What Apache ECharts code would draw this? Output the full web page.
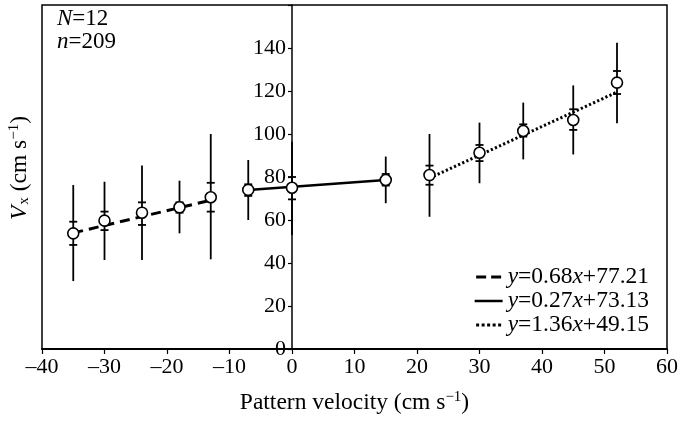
<!DOCTYPE html>
<html>
<head>
<meta charset="utf-8">
<script src="https://cdn.jsdelivr.net/npm/echarts@6/dist/echarts.min.js"></script>
<style>html,body{margin:0;padding:0;background:#fff;}#c{width:681px;height:421px;}</style>
</head>
<body>
<div id="c"></div>
<script>
// Data
const xVals  = [-35, -30, -24, -18, -13, -7, 0, 15, 22, 30, 37, 45, 52];
const yMeans = [53.8, 59.7, 63.4, 65.9, 70.6, 74.0, 75.0, 78.6, 80.9, 91.3, 101.4, 106.5, 123.9];
const sdLow  = [31.6, 41.4, 41.4, 53.8, 41.7, 60.0, 53.0, 67.8, 61.5, 77.1, 88.2, 90.5, 105.0];
const sdHigh = [76.3, 77.8, 85.3, 78.3, 100.0, 87.9, 96.4, 89.5, 100.0, 105.3, 114.6, 122.6, 142.5];
const seLow  = [48.4, 55.3, 57.7, 63.4, 63.9, 71.2, 69.6, 76.0, 76.4, 87.4, 98.8, 101.9, 118.6];
const seHigh = [59.2, 63.9, 68.2, 68.2, 77.3, 76.6, 80.0, 81.4, 85.3, 94.9, 104.5, 111.5, 129.3];

const fitNames = ['y=0.68x+77.21', 'y=0.27x+73.13', 'y=1.36x+49.15'];
const fitDashed = [[-35, 54.0], [-13, 69.2]];
const fitSolid  = [[-7, 74.0], [15, 78.6]];
const fitDotted = [[22, 79.5], [52, 119.5]];

const xTicks = [-40, -30, -20, -10, 0, 10, 20, 30, 40, 50, 60];
const yTicks = [0, 20, 40, 60, 80, 100, 120, 140];

const FONT = '"Liberation Serif", "DejaVu Serif", serif';
const FS_TICK = 22;
const FS_TEXT = 23.5;

const errData = xVals.map((x, i) => [x, sdLow[i], sdHigh[i], seLow[i], seHigh[i]]);
const ptData = xVals.map((x, i) => [x, yMeans[i]]);

const chart = echarts.init(document.getElementById('c'), null, {renderer: 'canvas'});

function fmtEq(name) {
  const m = name.match(/^y=([^x]+)x(.+)$/);
  return '{i|y}{n|=' + m[1] + '}{i|x}{n|' + m[2] + '}';
}

const iconDashed = 'path://M0,0h10v3h-10z M15,0h10v3h-10z';
const iconSolid  = 'path://M0,0h28v2.5h-28z';
const iconDotted = 'path://M0,0h3v3h-3z M5.5,0h3v3h-3z M11,0h3v3h-3z M16.5,0h3v3h-3z M22,0h3v3h-3z';

const GRID_LEFT = 42, GRID_RIGHT = 14;
const plotW = 681 - GRID_LEFT - GRID_RIGHT;

const option = {
  animation: false,
  backgroundColor: '#fff',
  grid: {left: GRID_LEFT, right: GRID_RIGHT, top: 5, bottom: 72, show: true, borderColor: '#000', borderWidth: 1.5, backgroundColor: 'transparent'},
  xAxis: {
    type: 'value', min: -40, max: 60, interval: 10,
    axisLine: {show: true, onZero: false, lineStyle: {color: '#000', width: 2}},
    axisTick: {show: true, length: 5, lineStyle: {color: '#000', width: 1.2}},
    axisLabel: {color: '#000', fontFamily: FONT, fontSize: FS_TICK, margin: 7,
      formatter: v => xTicks.includes(v) ? String(v).replace('-', '\u2013') : ''},
    splitLine: {show: false},
    name: 'Pattern velocity (cm s{sup|\u22121})',
    nameLocation: 'middle', nameGap: 41,
    nameTextStyle: {color: '#000', fontFamily: FONT, fontSize: FS_TEXT,
      rich: {sup: {fontFamily: FONT, fontSize: 15, verticalAlign: 'top', padding: [0, 0, 11, 0], color: '#000'}}}
  },
  yAxis: {
    type: 'value', min: 0, max: 160, interval: 20,
    offset: -plotW * 0.4,
    axisLine: {show: true, onZero: false, lineStyle: {color: '#000', width: 1.5}},
    axisTick: {show: true, length: 4, lineStyle: {color: '#000', width: 1.2}},
    axisLabel: {color: '#000', fontFamily: FONT, fontSize: FS_TICK, margin: 6,
      formatter: v => yTicks.includes(v) ? String(v) : ''},
    splitLine: {show: false}
  },
  legend: {
    orient: 'vertical', right: 27, top: 260,
    itemWidth: 28, itemHeight: 3, itemGap: 0,
    data: [{name: fitNames[0], icon: iconDashed}, {name: fitNames[1], icon: iconSolid}, {name: fitNames[2], icon: iconDotted}],
    itemStyle: {color: '#000', borderWidth: 0},
    formatter: fmtEq,
    textStyle: {color: '#000', fontFamily: FONT, fontSize: FS_TEXT, lineHeight: 22.5,
      rich: {i: {fontFamily: FONT, fontSize: FS_TEXT, fontStyle: 'italic', color: '#000', lineHeight: 22.5},
             n: {fontFamily: FONT, fontSize: FS_TEXT, color: '#000', lineHeight: 22.5}}}
  },
  graphic: [
    {type: 'text', left: 57, top: 7, style: {
      text: '{i|N}{n|=12}\n{i|n}{n|=209}',
      rich: {i: {fontFamily: FONT, fontSize: 23, fontStyle: 'italic', fill: '#000', lineHeight: 23},
             n: {fontFamily: FONT, fontSize: 23, fill: '#000', lineHeight: 23}}}},
    {type: 'text', x: 20, y: 168, rotation: Math.PI / 2, style: {
      text: '{i|V}{sub|x}{n| (cm s}{sup|\u22121}{n|)}',
      align: 'center', verticalAlign: 'middle',
      rich: {i: {fontFamily: FONT, fontSize: FS_TEXT, fontStyle: 'italic', fill: '#000'},
             sub: {fontFamily: FONT, fontSize: 15, fill: '#000', padding: [9, 0, 0, 1]},
             sup: {fontFamily: FONT, fontSize: 15, fill: '#000', padding: [0, 0, 11, 0]},
             n: {fontFamily: FONT, fontSize: FS_TEXT, fill: '#000'}}}}
  ],
  series: [
    {name: fitNames[0], type: 'line', data: fitDashed, symbol: 'none', z: 3,
     lineStyle: {color: '#000', width: 3, type: [10, 6]}, itemStyle: {color: '#000'}},
    {name: fitNames[1], type: 'line', data: fitSolid, symbol: 'none', z: 3,
     lineStyle: {color: '#000', width: 2.5, type: 'solid'}, itemStyle: {color: '#000'}},
    {name: fitNames[2], type: 'line', data: fitDotted, symbol: 'none', z: 3,
     lineStyle: {color: '#000', width: 3, type: [2.2, 2.3]}, itemStyle: {color: '#000'}},
    {name: 'err', type: 'custom', data: errData, z: 2,
     encode: {x: 0, y: [1, 2]},
     renderItem: function (params, api) {
       const x = api.value(0);
       const a = api.coord([x, api.value(1)]);
       const b = api.coord([x, api.value(2)]);
       const c = api.coord([x, api.value(3)]);
       const d = api.coord([x, api.value(4)]);
       const w = 4;
       const st = {stroke: '#000', lineWidth: 1.8};
       return {type: 'group', children: [
         {type: 'line', shape: {x1: a[0], y1: a[1], x2: b[0], y2: b[1]}, style: st},
         {type: 'line', shape: {x1: c[0] - w, y1: c[1], x2: c[0] + w, y2: c[1]}, style: st},
         {type: 'line', shape: {x1: d[0] - w, y1: d[1], x2: d[0] + w, y2: d[1]}, style: st}
       ]};
     }},
    {name: 'pts', type: 'scatter', data: ptData, symbol: 'circle', symbolSize: 11, z: 5,
     itemStyle: {color: '#fff', borderColor: '#000', borderWidth: 1.6, opacity: 1}}
  ]
};
chart.setOption(option);
</script>
</body>
</html>
